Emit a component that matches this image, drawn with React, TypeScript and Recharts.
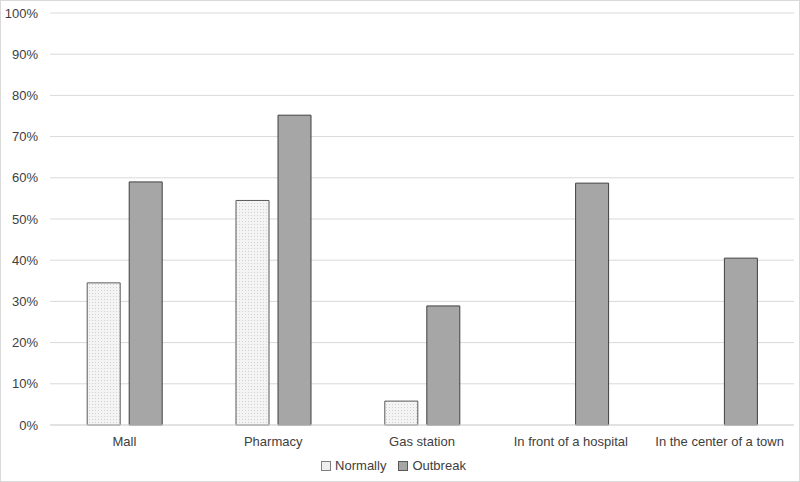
import React from 'react';
import { BarChart, Bar, XAxis, YAxis, CartesianGrid, Legend } from 'recharts';

const categories = ['Mall', 'Pharmacy', 'Gas station', 'In front of a hospital', 'In the center of a town'];
const normally = [34.5, 54.5, 5.8, 0, 0];
const outbreak = [59, 75.2, 28.9, 58.7, 40.5];
const yTicks = [0, 10, 20, 30, 40, 50, 60, 70, 80, 90, 100];

const data = categories.map((name, i) => ({
  name,
  Normally: normally[i],
  Outbreak: outbreak[i],
}));

const font = '"Liberation Sans", Arial, sans-serif';

const LegendContent = () => (
  <div style={{ display: 'flex', justifyContent: 'center', gap: 12, fontFamily: font, fontSize: 13, color: '#404040', paddingTop: 3, paddingRight: 8 }}>
    <span style={{ display: 'flex', alignItems: 'center', gap: 4 }}>
      <span style={{ width: 8, height: 8, background: '#eeeeee', border: '1px solid #7f7f7f', display: 'inline-block' }} />
      Normally
    </span>
    <span style={{ display: 'flex', alignItems: 'center', gap: 4 }}>
      <span style={{ width: 8, height: 8, background: '#a6a6a6', border: '1px solid #595959', display: 'inline-block' }} />
      Outbreak
    </span>
  </div>
);

export default function App() {
  return (
    <div style={{ position: 'absolute', left: 0, top: 0, width: 800, height: 482, background: '#fff', boxSizing: 'border-box', border: '1px solid #d9d9d9' }}>
      <BarChart
        width={798}
        height={480}
        data={data}
        margin={{ top: 12, right: 5, bottom: 4, left: 0 }}
        barCategoryGap="25%"
        barGap={9}
      >
        <defs>
          <pattern id="dots" width="3" height="3" patternUnits="userSpaceOnUse">
            <rect width="3" height="3" fill="#f4f4f4" />
            <rect x="1" y="1" width="1" height="1" fill="#d2d2d2" />
          </pattern>
        </defs>
        <CartesianGrid vertical={false} stroke="#d9d9d9" />
        <XAxis
          dataKey="name"
          tickLine={false}
          axisLine={{ stroke: '#d9d9d9' }}
          tick={{ fill: '#404040', fontSize: 13, fontFamily: font }}
          tickMargin={6}
          height={30}
          interval={0}
        />
        <YAxis
          domain={[0, 100]}
          ticks={yTicks}
          tickFormatter={(v) => `${v}%`}
          tickLine={false}
          axisLine={false}
          tickSize={0}
          tickMargin={12}
          width={49}
          tick={{ fill: '#404040', fontSize: 13, fontFamily: font }}
        />
        <Legend verticalAlign="bottom" height={22} content={<LegendContent />} />
        <Bar dataKey="Normally" fill="url(#dots)" stroke="#595959" strokeWidth={1} isAnimationActive={false} />
        <Bar dataKey="Outbreak" fill="#a6a6a6" stroke="#404040" strokeWidth={1} isAnimationActive={false} />
      </BarChart>
    </div>
  );
}
